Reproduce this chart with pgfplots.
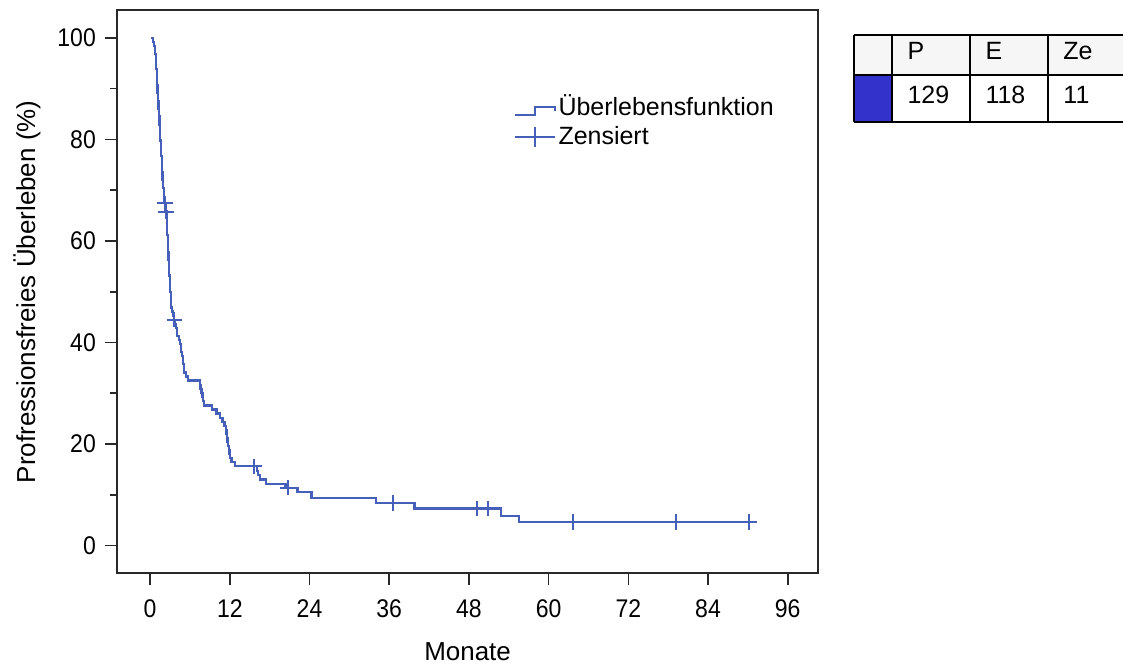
\documentclass[border=0pt]{standalone}
\usepackage{fontspec}
\setmainfont{Liberation Sans}
\newfontfamily\narrowfont{Liberation Sans}[FakeStretch=0.9]
\usepackage{pgfplots}
\pgfplotsset{compat=1.18}
\definecolor{kmblue}{RGB}{70,95,185}
\definecolor{cellblue}{RGB}{51,51,204}
\definecolor{headgray}{RGB}{246,246,246}
\definecolor{framegray}{RGB}{40,40,40}
\begin{document}
\begin{tikzpicture}
\path (-58.5pt,-44.5pt) rectangle (503.5pt,287pt);
\begin{axis}[
  at={(0pt,0pt)}, anchor=south west,
  scale only axis, width=351pt, height=282pt,
  xmin=-5, xmax=100.6, ymin=-5.5, ymax=105.5,
  axis line style={line width=1pt, framegray},
  xtick={0,12,...,96}, ytick={0,20,...,100}, minor ytick={10,30,...,90},
  xtick pos=lower, ytick pos=left,
  tick align=outside, major tick length=6pt, minor tick length=3.5pt,
  tick style={framegray, line width=0.8pt},
  /pgf/number format/assume math mode=true,
  ticklabel style={font=\narrowfont\fontsize{12.8}{15}\selectfont},
  xticklabel style={yshift=-3.5pt},
  yticklabel style={xshift=-1pt},
  xlabel={Monate}, ylabel={Profressionsfreies Überleben (\%)},
  label style={font=\fontsize{13}{15}\selectfont},
  xlabel style={at={(axis description cs:0.5,-0.1383)}, anchor=center},
  ylabel style={at={(axis description cs:-0.1282,0.5)}, anchor=center},
  legend style={at={(axis description cs:0.565,0.855)}, anchor=north west,
    draw=none, fill=none, inner sep=0pt,
    font=\fontsize{12.5}{15}\selectfont,
    nodes={inner sep=1.5pt}, row sep=0.5pt,
    /tikz/every even column/.append style={column sep=5pt}},
  legend cell align=left,
]
\addplot[const plot, kmblue, line width=1.1pt,
  legend image code/.code={\draw[kmblue, line width=1pt] (0pt,-4pt) -- (10pt,-4pt) -- (10pt,0pt) -- (20pt,0pt) -- (20pt,-2pt);}]
coordinates {
(0.1,100) (0.45,99.2) (0.6,98.4) (0.7,97.7) (0.78,96.9) (0.85,95.4) (0.92,93.8)
(1.0,92.2) (1.06,90.7) (1.12,89.1) (1.18,87.6) (1.25,86.0) (1.32,84.5) (1.40,82.9)
(1.47,81.4) (1.53,79.8) (1.6,78.3) (1.67,76.7) (1.74,75.2) (1.8,73.6) (1.88,72.1)
(1.96,70.5) (2.05,69.0) (2.15,67.4) (2.35,66.6) (2.45,65.8) (2.5,64.2) (2.55,62.6)
(2.6,61.1) (2.65,59.5) (2.72,57.9) (2.78,56.3) (2.84,54.8) (2.9,53.2) (2.97,51.6)
(3.05,50.0) (3.12,48.4) (3.2,46.9) (3.35,46.1) (3.45,45.3) (3.55,44.5) (3.75,43.7)
(3.9,42.9) (4.0,42.1) (4.1,41.3) (4.3,40.5) (4.5,39.7) (4.6,38.9) (4.7,38.1)
(4.8,37.3) (4.9,36.5) (5.0,35.7) (5.05,34.9) (5.1,34.1) (5.4,33.3) (5.7,32.5)
(7.5,31.7) (7.6,30.9) (7.75,30.1) (7.9,29.3) (8.0,28.5) (8.15,27.6) (9.35,26.8)
(10.0,26.0) (10.5,25.2) (10.9,24.4) (11.2,23.6) (11.4,22.8) (11.5,22.0) (11.6,21.2)
(11.65,20.4) (11.75,19.6) (11.85,18.8) (11.95,18.0) (12.05,17.2) (12.25,16.4)
(12.8,15.6) (16.1,14.7) (16.3,13.9) (16.6,13.0) (17.5,12.2) (20.4,11.4) (22.2,10.5)
(24.3,9.3) (34.0,8.4) (39.8,7.3) (52.8,5.9) (55.6,4.6) (91.2,4.6)
};
\addlegendentry{Überlebensfunktion}
\addplot[only marks, mark=+, mark size=3.9pt, kmblue, line width=1pt,
  legend image code/.code={\draw[kmblue, line width=1pt] (0pt,0pt) -- (20pt,0pt); \draw[kmblue, line width=1pt] (10pt,-5pt) -- (10pt,5pt);}]
coordinates {
(2.25,67.4) (2.4,65.8) (3.65,44.5) (15.6,15.6) (20.7,11.4) (36.5,8.4)
(49.2,7.3) (50.9,7.3) (63.6,4.6) (79.2,4.6) (90.2,4.6)
};
\addlegendentry{Zensiert}
\end{axis}
% table
\fill[headgray] (369pt,249.5pt) rectangle (503.5pt,269.5pt);
\fill[cellblue] (369pt,226pt) rectangle (388pt,249.5pt);
\draw[line width=1pt, black] (369pt,269.5pt) -- (503.5pt,269.5pt)
  (369pt,249.5pt) -- (503.5pt,249.5pt)
  (369pt,226pt) -- (503.5pt,226pt);
\foreach \x in {369,388,427,466} \draw[line width=1pt, black] (\x pt,226pt) -- (\x pt,269.5pt);
\begin{scope}[every node/.style={font=\fontsize{12.5}{15}\selectfont, anchor=west, inner sep=0pt}]
\node at (395.5pt,261.5pt) {P};
\node at (434.5pt,261.5pt) {E};
\node at (473.5pt,261.5pt) {Ze};
\node at (395.5pt,239.5pt) {129};
\node at (434.5pt,239.5pt) {118};
\node at (473.5pt,239.5pt) {11};
\end{scope}
\end{tikzpicture}
\end{document}
